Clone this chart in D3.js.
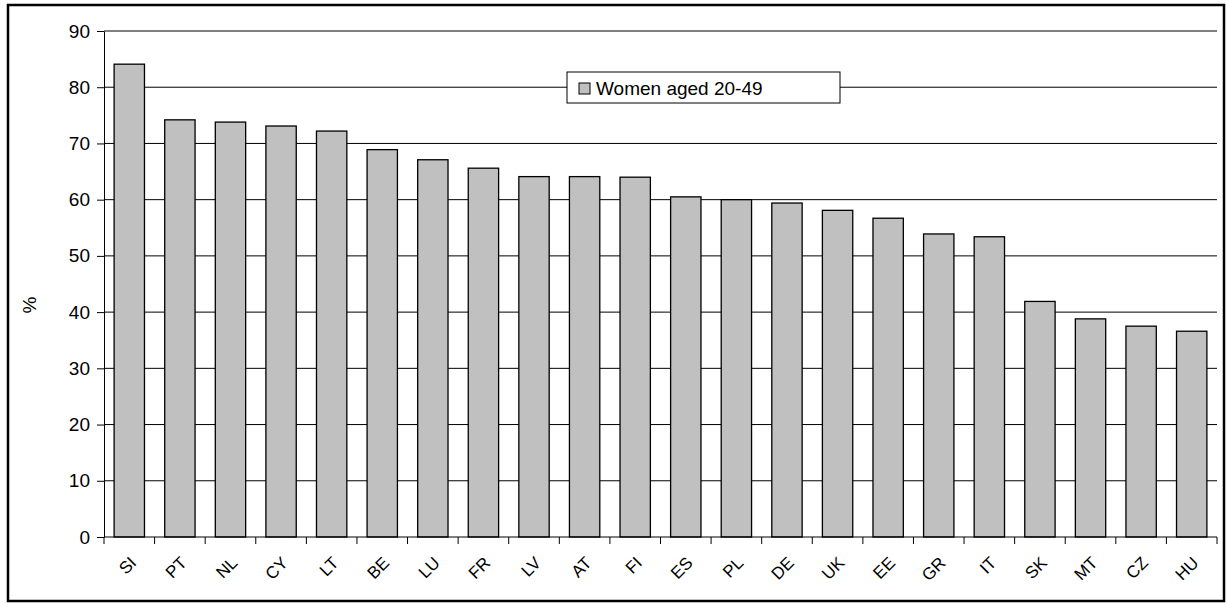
<!DOCTYPE html><html><head><script src="https://cdn.jsdelivr.net/npm/d3@7"></script>
<style>body{margin:0;background:#fff}text{font-family:Arial,"Liberation Sans",sans-serif}</style></head><body><svg id="c" width="1227" height="604"></svg>
<script>
const categories=["SI","PT","NL","CY","LT","BE","LU","FR","LV","AT","FI","ES","PL","DE","UK","EE","GR","IT","SK","MT","CZ","HU"];
const values=[84.1,74.2,73.8,73.1,72.2,68.9,67.1,65.6,64.1,64.1,64.0,60.5,60.0,59.4,58.1,56.7,53.9,53.4,41.9,38.8,37.5,36.6];
const yTicks=[0,10,20,30,40,50,60,70,80,90];
const seriesName="Women aged 20-49";
const svg=d3.select("#c");
svg.append("rect").attr("x",8).attr("y",5).attr("width",1216).attr("height",596).attr("fill","none").attr("stroke","#000").attr("stroke-width",2.5);
const L=104,R=1217,T=31,B=537;
const x=d3.scaleBand().domain(categories).range([L,R]).paddingInner(0.4).paddingOuter(0.2);
const y=d3.scaleLinear().domain([0,90]).range([B,T]);
const g=svg.append("g");
g.selectAll(".gl").data(yTicks.slice(1)).join("line").attr("x1",L).attr("x2",R).attr("y1",d=>y(d)).attr("y2",d=>y(d)).attr("stroke","#000").attr("stroke-width",1);
const ya=svg.append("g").attr("transform",`translate(${L},0)`).call(d3.axisLeft(y).tickValues(yTicks).tickSize(7).tickSizeOuter(0));
ya.selectAll("text").attr("font-size",19).attr("fill","#000").attr("dx",-4);
ya.select(".domain").attr("stroke","#000");
g.selectAll(".bar").data(values).join("rect").attr("x",(d,i)=>x(categories[i])).attr("width",x.bandwidth()).attr("y",d=>y(d)).attr("height",d=>B-y(d)).attr("fill","#c0c0c0").attr("stroke","#000").attr("stroke-width",1.3);
const step=x.step();
const xa=svg.append("g").attr("transform",`translate(0,${B})`);
xa.append("line").attr("x1",L).attr("x2",R).attr("stroke","#000");
xa.selectAll(".tk").data(d3.range(categories.length+1)).join("line").attr("x1",i=>L+i*step).attr("x2",i=>L+i*step).attr("y1",0).attr("y2",7).attr("stroke","#000");
xa.selectAll(".lb").data(categories).join("text").attr("text-anchor","end").attr("font-size",17)
 .attr("transform",d=>`translate(${x(d)+x.bandwidth()/2+8},${27}) rotate(-45)`).text(d=>d);
svg.append("text").attr("transform","translate(36,305) rotate(-90)").attr("text-anchor","middle").attr("font-size",19).text("%");
const lg=svg.append("g").attr("transform","translate(567,72)");
lg.append("rect").attr("width",273).attr("height",31).attr("fill","#fff").attr("stroke","#000");
lg.append("rect").attr("x",12).attr("y",11).attr("width",11).attr("height",11).attr("fill","#c0c0c0").attr("stroke","#000");
lg.append("text").attr("x",29).attr("y",23).attr("font-size",19).text(seriesName);
</script></body></html>
